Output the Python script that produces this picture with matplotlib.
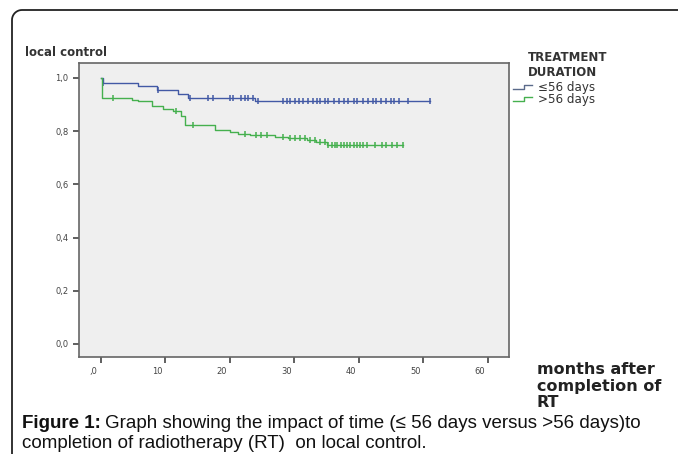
import numpy as np
import matplotlib
matplotlib.use("Agg")
import matplotlib.pyplot as plt
import matplotlib.transforms as mtrans
from matplotlib.lines import Line2D

# Kaplan-Meier steps (months, local control)
short_t = [0, 0.3, 5.8, 8.7, 12.0, 13.5, 23.9, 51.0]
short_s = [1.0, 0.980, 0.971, 0.955, 0.939, 0.924, 0.915, 0.915]
short_cens = [0.4, 8.9, 13.8, 16.6, 17.4, 20.0, 20.5, 21.7, 22.3, 22.8, 23.6, 24.3,
              28.2, 28.8, 29.4, 30.1, 30.7, 31.3, 32.1, 32.9, 33.5, 34.0, 34.8,
              35.3, 36.1, 36.9, 37.7, 38.4, 39.2, 39.8, 40.6, 41.4, 42.2, 42.6,
              43.4, 44.2, 45.0, 45.4, 46.2, 47.6, 51.0]

long_t = [0, 0.2, 4.8, 5.8, 7.9, 9.7, 11.2, 12.5, 13.0, 17.7, 20.0, 21.3, 23.1,
          27.0, 29.0, 31.9, 33.4, 35.0, 46.8]
long_s = [1.0, 0.926, 0.918, 0.914, 0.893, 0.884, 0.874, 0.858, 0.823, 0.806,
          0.795, 0.789, 0.786, 0.777, 0.773, 0.765, 0.759, 0.748, 0.748]
long_cens = [1.9, 11.7, 14.3, 22.3, 24.1, 24.9, 25.7, 28.2, 29.3, 30.1, 30.9,
             31.6, 32.4, 33.2, 34.0, 34.7, 35.3, 35.8, 36.3, 36.7, 37.2, 37.7,
             38.2, 38.7, 39.2, 39.7, 40.2, 40.7, 41.2, 42.5, 43.6, 44.3, 45.1,
             45.9, 46.8]

xticks = [0, 10, 20, 30, 40, 50, 60]
xticklabels = [",0", "10", "20", "30", "40", "50", "60"]
yticks = [0.0, 0.2, 0.4, 0.6, 0.8, 1.0]
yticklabels = ["0,0", "0,2", "0,4", "0,6", "0,8", "1,0"]

blue = "#4259a5"
green = "#45b04e"

fig = plt.figure(figsize=(6.78, 4.54), dpi=100)
ax = fig.add_axes([0.1165, 0.2137, 0.6342, 0.6475])
ax.set_facecolor("#efefef")


def km(ax, t, s, cens, col):
    ax.step(t, s, where="post", color=col, lw=1.0)
    idx = np.searchsorted(t, cens, side="right") - 1
    ax.plot(cens, np.array(s)[idx], ls="none", marker="|", ms=4, mew=1.1, color=col)


km(ax, short_t, short_s, short_cens, blue)
km(ax, long_t, long_s, long_cens, green)

ax.set_xlim(-3.4, 63.3)
ax.set_ylim(-0.049, 1.056)
ax.set_xticks(xticks)
ax.set_xticklabels(xticklabels)
ax.set_yticks(yticks)
ax.set_yticklabels(yticklabels)
ax.tick_params(axis="both", labelsize=6, colors="#444444", length=4, width=1.2)
ax.tick_params(axis="x", direction="out", pad=3)
shift = mtrans.ScaledTranslation(-8 / 100, 0, fig.dpi_scale_trans)
for lab in ax.get_xticklabels():
    lab.set_transform(lab.get_transform() + shift)
for sp in ax.spines.values():
    sp.set_color("#666666")
    sp.set_linewidth(1.2)

# outer frame (left + top with rounded corner)
W, H = 678.0, 454.0
r = 10
ang = np.linspace(np.pi, np.pi / 2, 12)
fx = np.concatenate([[12], 12 + r + r * np.cos(ang), [W]])
fy = np.concatenate([[H], 10 + r - r * np.sin(ang), [10]])
fig.add_artist(Line2D(fx / W, 1 - fy / H, transform=fig.transFigure, color="#222222", lw=1.3))

fig.text(25 / W, 1 - 52 / H, "local control", fontsize=8.5, fontweight="bold",
         color="#333333", va="center")

fig.text(528 / W, 1 - 65 / H, "TREATMENT\nDURATION", fontsize=8.5, fontweight="bold",
         color="#333333", va="center", linespacing=1.25)
for yy, lab, col in [(87, "\u226456 days", "#5a6a8a"), (99, ">56 days", green)]:
    sx = np.array([513, 524, 524, 532]) / W
    sy = 1 - np.array([yy + 2, yy + 2, yy - 2, yy - 2]) / H
    fig.add_artist(Line2D(sx, sy, transform=fig.transFigure, color=col, lw=1.0))
    fig.text(538 / W, 1 - yy / H, lab, fontsize=8.6, color="#333333", va="center")

fig.text(537 / W, 1 - 386 / H, "months after\ncompletion of\nRT", fontsize=11.5,
         fontweight="bold", color="#222222", va="center", linespacing=1.1)

cap = {"fontsize": 13.5, "family": "Liberation Sans", "color": "#111111", "va": "center"}
t1 = fig.text(22 / W, 1 - 423 / H, "Figure 1:", fontweight="bold", **cap)
fig.canvas.draw()
bb = t1.get_window_extent()
fig.text(bb.x1 / W + 4 / W, 1 - 423 / H,
         "Graph showing the impact of time (\u2264 56 days versus >56 days)to", **cap)
fig.text(22 / W, 1 - 444 / H, "completion of radiotherapy (RT)  on local control.", **cap)

fig.savefig("out.png", dpi=100)
